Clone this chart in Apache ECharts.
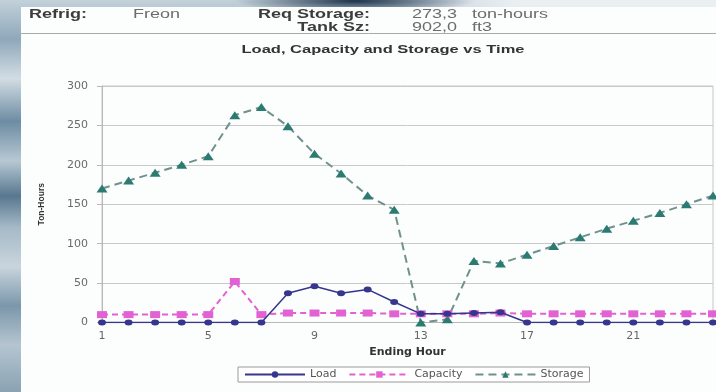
<!DOCTYPE html>
<html>
<head>
<meta charset="utf-8">
<script src="https://cdn.jsdelivr.net/npm/echarts@6/dist/echarts.min.js"></script>
<style>
  html, body { margin: 0; padding: 0; }
  #stage {
    position: relative; width: 716px; height: 392px; overflow: hidden;
    background:
      radial-gradient(ellipse 120px 12px at 355px 1px, rgba(20,42,66,0.95), rgba(20,42,66,0) 100%),
      linear-gradient(90deg, rgba(236,241,243,0) 55%, rgba(236,241,243,0.95) 72%),
      linear-gradient(180deg, #c3d1da 0%, #8ea8ba 10%, #d2dde4 20%, #6d8ca3 31%, #b7c8d3 41%,
                      #58778f 50%, #a5b9c7 58%, #c9d5dd 68%, #7b97ab 78%, #b4c5d0 88%, #8aa2b3 100%);
  }
  #panel { position: absolute; left: 21px; top: 7px; right: 0; bottom: 0; background: #fcfdfd; }
  #chart { position: absolute; left: 0; top: 0; width: 716px; height: 392px; }
</style>
</head>
<body>
<div id="stage"><div id="panel"></div><div id="chart"></div></div>
<script>
// Hourly profile of the thermal storage system
const hours = ['1','2','3','4','5','6','7','8','9','10','11','12',
               '13','14','15','16','17','18','19','20','21','22','23','24'];
const load     = [0, 0, 0, 0, 0, 0, 0, 37, 46, 37, 42, 26, 11, 11, 12, 13, 0, 0, 0, 0, 0, 0, 0, 0];
const capacity = [10, 10, 10, 10, 10, 52, 10, 12, 12, 12, 12, 11, 11, 11, 11, 12, 11, 11, 11, 11, 11, 11, 11, 11];
const storage  = [170, 180, 190, 200, 211, 263, 273.3, 249, 214, 189, 161, 143, 0, 4, 78, 75, 86, 97, 108, 119, 129, 139, 150, 161];
const yTicks   = { min: 0, max: 300, step: 50 };

// Header values
const refrigerant = 'Freon';
const reqStorage = 273.3;   // ton-hours
const tankSize = 902.0;     // ft3

const fmt = v => v.toFixed(1).replace('.', ',');

const headFont = '"Liberation Sans", Arial, sans-serif';
const axisFont = '"DejaVu Sans", sans-serif';

function txt(text, x, y, opts) {
  return {
    type: 'text', x: x, y: y, scaleX: opts.scaleX || 1.5, silent: true,
    style: {
      text: text,
      font: (opts.weight || 'normal') + ' ' + (opts.size || 12) + 'px ' + headFont,
      fill: opts.color || '#666',
      textAlign: opts.align || 'left', align: opts.align || 'left',
      textVerticalAlign: 'middle', verticalAlign: 'middle'
    }
  };
}

const chart = echarts.init(document.getElementById('chart'), null, { renderer: 'canvas' });

chart.setOption({
  animation: false,
  backgroundColor: 'transparent',
  graphic: [
    txt('Refrig:', 29, 15, { weight: 'bold', color: '#3c3c3c' }),
    txt(refrigerant, 133, 15, { color: '#6c6c6c' }),
    txt('Req Storage:', 370, 15, { weight: 'bold', color: '#3c3c3c', align: 'right' }),
    txt(fmt(reqStorage), 412, 15, { color: '#6c6c6c' }),
    txt('ton-hours', 472, 15, { color: '#6c6c6c' }),
    txt('Tank Sz:', 370, 27.5, { weight: 'bold', color: '#3c3c3c', align: 'right' }),
    txt(fmt(tankSize), 412, 27.5, { color: '#6c6c6c' }),
    txt('ft3', 472, 27.5, { color: '#6c6c6c' }),
    {
      type: 'line', silent: true,
      shape: { x1: 21, y1: 33.5, x2: 716, y2: 33.5 },
      style: { stroke: '#a9a9a9', lineWidth: 1 }
    },
    txt('Load, Capacity and Storage vs Time', 383, 50, { weight: 'bold', size: 11, color: '#333', align: 'center' })
  ],
  grid: {
    left: 102, right: 3, top: 86, bottom: 69.5,
    show: true, borderColor: '#c6c6c6', borderWidth: 1
  },
  legend: {
    data: ['Load', 'Capacity', 'Storage'],
    left: 238, top: 367,
    itemWidth: 60, itemHeight: 8, itemGap: 12,
    padding: [2, 6],
    borderColor: '#9a9a9a', borderWidth: 1, backgroundColor: '#ffffff',
    textStyle: { fontFamily: axisFont, fontSize: 11, color: '#555' }
  },
  xAxis: {
    type: 'category',
    data: hours,
    boundaryGap: false,
    name: 'Ending Hour',
    nameLocation: 'middle',
    nameGap: 22,
    nameTextStyle: { fontFamily: axisFont, fontSize: 11, fontWeight: 'bold', color: '#333' },
    axisLine: { lineStyle: { color: '#b8b8b8' } },
    axisTick: { show: false },
    axisLabel: { interval: 3, margin: 8, fontFamily: axisFont, fontSize: 11, color: '#666' },
    splitLine: { show: false }
  },
  yAxis: {
    type: 'value',
    min: yTicks.min, max: yTicks.max, interval: yTicks.step,
    name: 'Ton-Hours',
    nameLocation: 'middle',
    nameGap: 56,
    nameTextStyle: { fontFamily: headFont, fontSize: 8.5, fontWeight: 'bold', color: '#333' },
    axisLine: { show: true, lineStyle: { color: '#b8b8b8' } },
    axisTick: { show: true, length: 5, lineStyle: { color: '#b8b8b8' } },
    axisLabel: { margin: 14, fontFamily: axisFont, fontSize: 11, color: '#6a6a6a' },
    splitLine: { lineStyle: { color: '#c9c9c9', width: 1 } }
  },
  series: [
    {
      name: 'Load', type: 'line', data: load, z: 4,
      symbol: 'circle', symbolSize: [8, 6],
      lineStyle: { color: '#36368c', width: 1.5 },
      itemStyle: { color: '#36368c' }
    },
    {
      name: 'Capacity', type: 'line', data: capacity, z: 3,
      symbol: 'rect', symbolSize: [10, 7],
      lineStyle: { color: '#e262d4', width: 2, type: [6, 4] },
      itemStyle: { color: '#e262d4' }
    },
    {
      name: 'Storage', type: 'line', data: storage, z: 2,
      symbol: 'triangle', symbolSize: [11, 8],
      lineStyle: { color: '#6f918d', width: 2, type: [8, 5] },
      itemStyle: { color: '#2b7b73' }
    }
  ]
});
</script>
</body>
</html>
